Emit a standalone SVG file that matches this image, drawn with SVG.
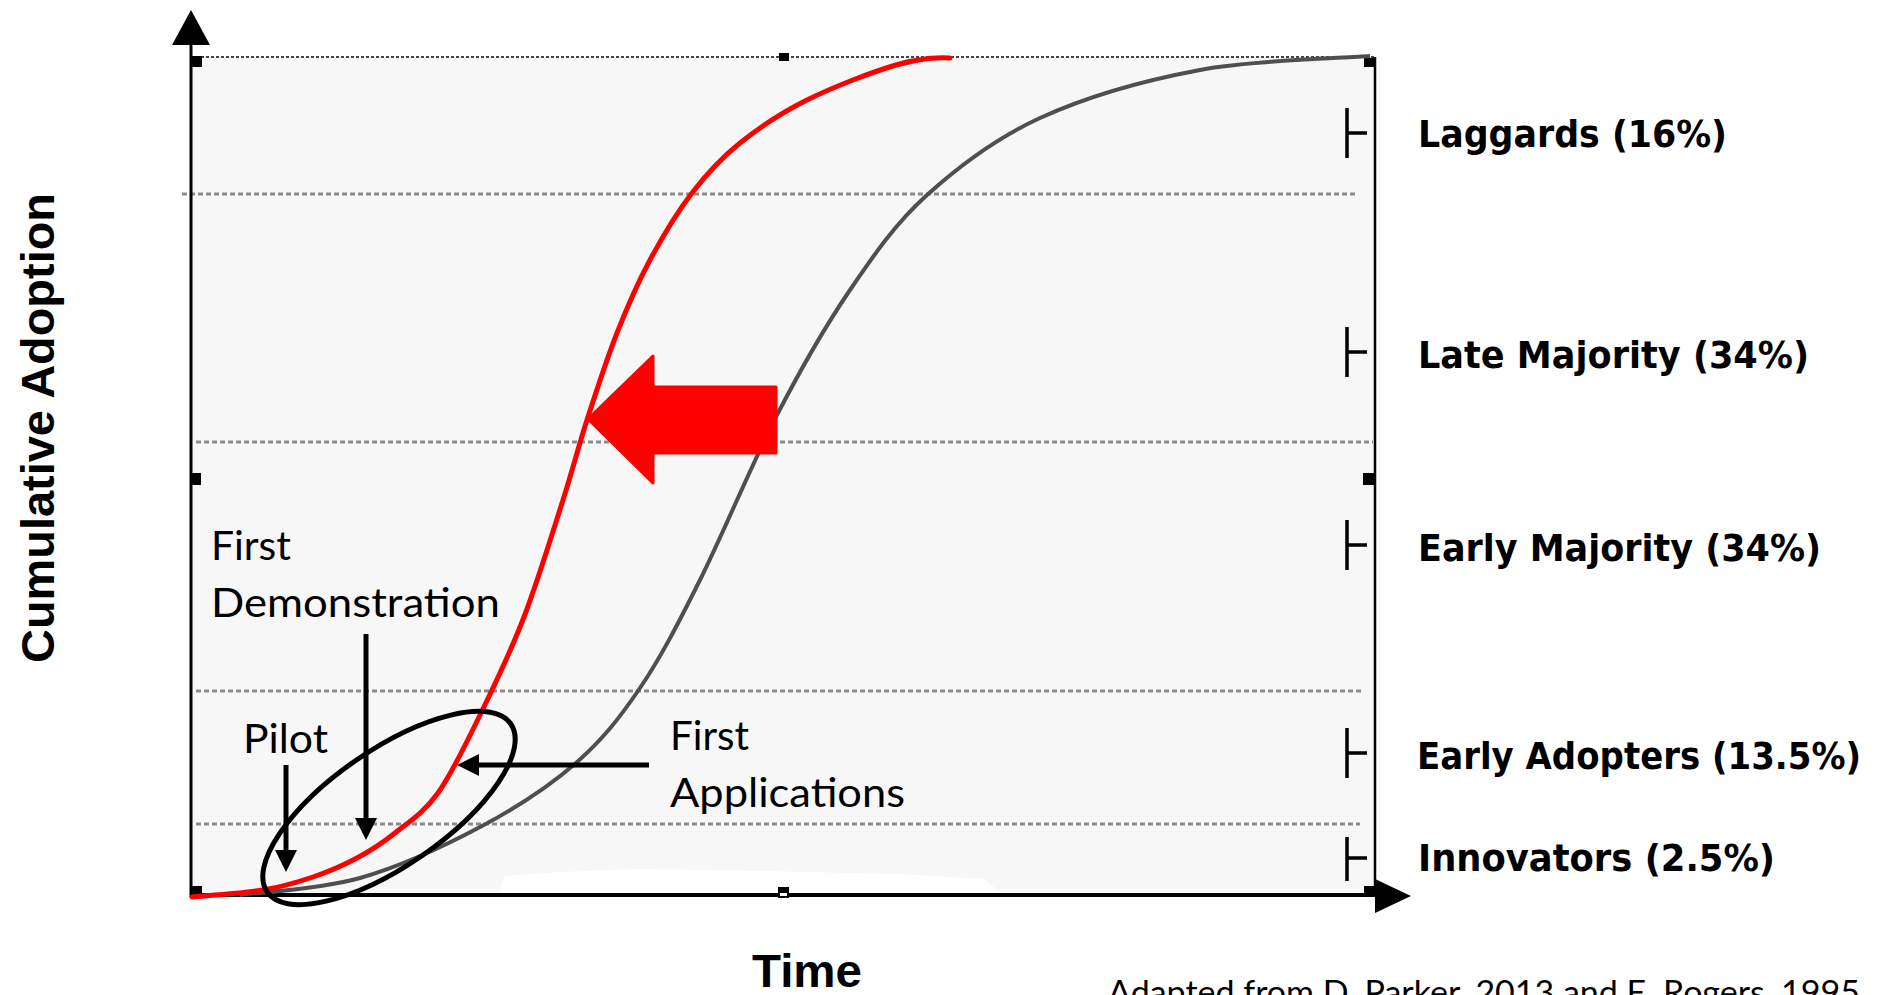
<svg xmlns="http://www.w3.org/2000/svg" width="1891" height="995" viewBox="0 0 1891 995">
<defs>
<style>
.grid{stroke:#8c8c8c;stroke-width:3;stroke-dasharray:5 3;fill:none}
.tick{stroke:#000;stroke-width:3.5;fill:none}
.seg{font-family:"DejaVu Sans",Verdana,sans-serif;font-weight:bold;font-size:38px;fill:#000}
.ann{font-family:Lato,"Liberation Sans",sans-serif;font-size:41px;fill:#000}
.ptr{stroke:#000;stroke-width:5;fill:none}
.handle{fill:#000}
.axt{font-family:"Liberation Sans",Arial,sans-serif;font-weight:bold;fill:#000}
</style>
<marker id="ah" viewBox="0 0 22 22" markerUnits="userSpaceOnUse" markerWidth="22" markerHeight="22" refX="7" refY="11" orient="auto">
<path d="M0,0 L22,11 L0,22 z" fill="#000"/>
</marker>
<filter id="soft" x="-5%" y="-5%" width="110%" height="110%"><feGaussianBlur stdDeviation="0.6"/></filter>
</defs>

<g id="plot-area">
<rect x="191" y="57" width="1184" height="838" fill="#f7f7f7"/>
<path d="M500,893 L504,876 L560,872 L640,869 L760,871 L900,874 L985,879 L1000,893 Z" fill="#ffffff"/>
</g>

<g id="gridlines">
<line class="grid" x1="182" y1="194" x2="1358" y2="194"/>
<line class="grid" x1="196" y1="442" x2="1373" y2="442"/>
<line class="grid" x1="196" y1="691" x2="1363" y2="691"/>
<line class="grid" x1="196" y1="824" x2="1360" y2="824"/>
</g>

<g id="axes">
<line x1="191" y1="57" x2="1375" y2="57" stroke="#444" stroke-width="2" stroke-dasharray="3 2"/>
<line x1="1375" y1="57" x2="1375" y2="895" stroke="#000" stroke-width="2.5"/>
<line x1="191" y1="44" x2="191" y2="897" stroke="#000" stroke-width="3"/>
<polygon points="172,45 191,10 210,45" fill="#000"/>
<line x1="191" y1="895" x2="1378" y2="895" stroke="#000" stroke-width="4"/>
<polygon points="1375,879 1411,896 1375,913" fill="#000"/>
<rect class="handle" x="192" y="56" width="10" height="11"/>
<rect class="handle" x="779" y="53" width="10" height="8"/>
<rect class="handle" x="1364" y="58" width="11" height="9"/>
<rect class="handle" x="191" y="473" width="10" height="12"/>
<rect class="handle" x="1363" y="473" width="12" height="12"/>
<rect class="handle" x="192" y="886" width="10" height="8"/>
<rect class="handle" x="778" y="887" width="11" height="11"/>
<rect x="780" y="893" width="7" height="3" fill="#fff"/>
<rect class="handle" x="1364" y="886" width="11" height="9"/>
</g>

<g id="curves">
<path id="baseline-curve" d="M240,895 C260,892.2 319.7,889.5 360,878 C400.3,866.5 446,845.2 482,826 C518,806.8 549.7,786 576,763 C602.3,740 619.3,718.5 640,688 C660.7,657.5 677.2,625.5 700,580 C722.8,534.5 752,463.3 777,415 C802,366.7 825,326.7 850,290 C875,253.3 895.3,223.7 927,195 C958.7,166.3 994.5,138.8 1040,118 C1085.5,97.2 1145,80.3 1200,70 C1255,59.7 1341.7,58.3 1370,56" fill="none" stroke="#505050" stroke-width="4" filter="url(#soft)"/>
<path id="accelerated-curve" d="M192,897 C203.8,895.8 242.8,893.3 263,890 C283.2,886.7 297.3,882.3 313,877 C328.7,871.7 343.3,865.3 357,858 C370.7,850.7 381.5,843.8 395,833 C408.5,822.2 423.7,813 438,793 C452.3,773 466.7,742.3 481,713 C495.3,683.7 510.3,652.5 524,617 C537.7,581.5 552.5,532.8 563,500 C573.5,467.2 578,447.8 587,420 C596,392.2 606.5,359.7 617,333 C627.5,306.3 637.5,283.3 650,260 C662.5,236.7 677,212.5 692,193 C707,173.5 720.8,158.5 740,143 C759.2,127.5 781,113 807,100 C833,87 872.2,72 896,65 C919.8,58 941,57 950,58" fill="none" stroke="#ff0000" stroke-width="5" stroke-linecap="round" stroke-linejoin="round"/>
</g>

<g id="shift-arrow">
<path d="M588,419 L653,356 L653,387 L776,387 L776,453 L653,453 L653,483 Z" fill="#ff0000" stroke="#ff0000" stroke-width="3" stroke-linejoin="round"/>
</g>

<g id="early-phase-ellipse">
<ellipse cx="389" cy="808" rx="148" ry="58" transform="rotate(-34.6 389 808)" fill="none" stroke="#000" stroke-width="5"/>
</g>

<g id="ticks">
<path class="tick" d="M1347,108 V158 M1347,133 H1367"/>
<path class="tick" d="M1347,327 V377 M1347,352 H1367"/>
<path class="tick" d="M1347,520 V570 M1347,545 H1367"/>
<path class="tick" d="M1347,728 V778 M1347,753 H1367"/>
<path class="tick" d="M1347,837 V881 M1347,858 H1367"/>
</g>

<g id="label-laggards"><text class="seg" x="1418" y="147" textLength="309" lengthAdjust="spacingAndGlyphs">Laggards (16%)</text></g>
<g id="label-late-majority"><text class="seg" x="1418" y="368" textLength="391" lengthAdjust="spacingAndGlyphs">Late Majority (34%)</text></g>
<g id="label-early-majority"><text class="seg" x="1418" y="561" textLength="403" lengthAdjust="spacingAndGlyphs">Early Majority (34%)</text></g>
<g id="label-early-adopters"><text class="seg" x="1417" y="769" textLength="444" lengthAdjust="spacingAndGlyphs">Early Adopters (13.5%)</text></g>
<g id="label-innovators"><text class="seg" x="1418" y="871" textLength="357" lengthAdjust="spacingAndGlyphs">Innovators (2.5%)</text></g>

<g id="axis-y-title"><text class="axt" font-size="47" transform="translate(54 428) rotate(-90)" text-anchor="middle" textLength="470" lengthAdjust="spacingAndGlyphs">Cumulative Adoption</text></g>
<g id="axis-x-title"><text class="axt" font-size="46" x="752" y="987" textLength="110" lengthAdjust="spacingAndGlyphs">Time</text></g>

<g id="node-first-demonstration">
<text class="ann" x="211" y="560" textLength="80" lengthAdjust="spacingAndGlyphs">First</text>
<text class="ann" x="211" y="617" textLength="289" lengthAdjust="spacingAndGlyphs">Demonstration</text>
</g>
<g id="node-pilot"><text class="ann" x="243" y="753" textLength="85" lengthAdjust="spacingAndGlyphs">Pilot</text></g>
<g id="node-first-applications">
<text class="ann" x="670" y="750" textLength="79" lengthAdjust="spacingAndGlyphs">First</text>
<text class="ann" x="670" y="807" textLength="235" lengthAdjust="spacingAndGlyphs">Applications</text>
</g>

<g id="connectors">
<line class="ptr" x1="366" y1="634" x2="366" y2="825" marker-end="url(#ah)"/>
<line class="ptr" x1="286" y1="765" x2="286" y2="857" marker-end="url(#ah)"/>
<line class="ptr" x1="649" y1="765" x2="472" y2="765" marker-end="url(#ah)"/>
</g>

<g id="source-note"><text font-family="Lato,'Liberation Sans',sans-serif" font-size="33" x="1108" y="1004" textLength="752" lengthAdjust="spacingAndGlyphs" fill="#000">Adapted from D. Parker, 2013 and E. Rogers, 1995</text></g>
</svg>
